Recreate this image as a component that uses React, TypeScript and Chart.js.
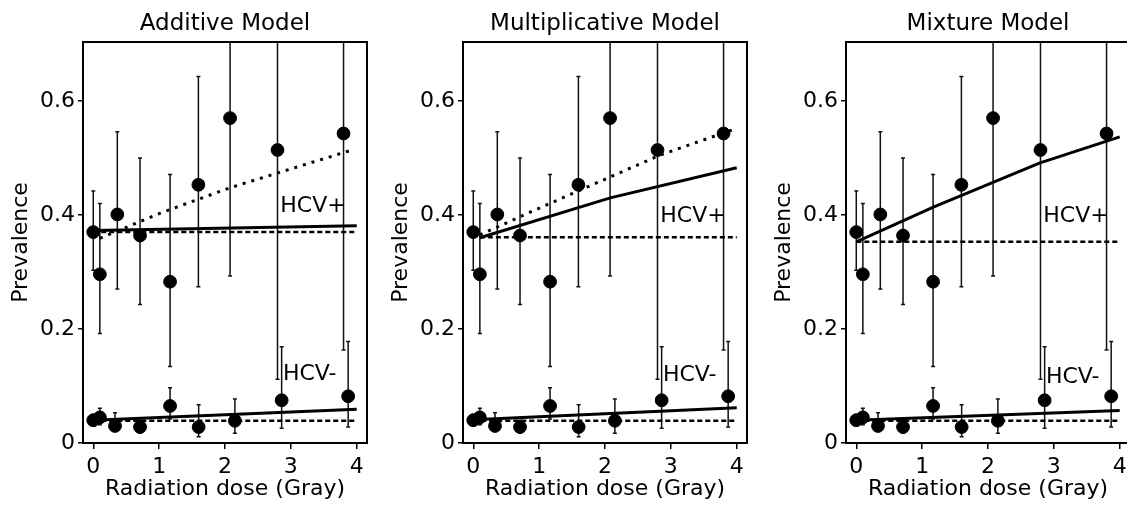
import React, { useEffect, useRef } from 'react';
import { Chart, registerables } from 'chart.js';

Chart.register(...registerables);

const FONT_FAMILY = "'DejaVu Sans', 'Liberation Sans', sans-serif";

// ---- axis / text content ----
const xTicks = [0, 1, 2, 3, 4];
const yTicks = [0, 0.2, 0.4, 0.6];
const yTickLabels = ['0', '0.2', '0.4', '0.6'];
const panelTitles = ['Additive Model', 'Multiplicative Model', 'Mixture Model'];
const xAxisTitle = 'Radiation dose (Gray)';
const yAxisTitle = 'Prevalence';
const groupNames = ['HCV+', 'HCV-'];

// ---- observed prevalence (same in every panel) ----
const posDose = [0, 0.1, 0.365, 0.71, 1.166, 1.596, 2.077, 2.797, 3.8];
const posPrev = [0.37, 0.296, 0.401, 0.364, 0.283, 0.453, 0.57, 0.514, 0.543];
const posLow = [0.303, 0.192, 0.27, 0.243, 0.134, 0.274, 0.293, 0.112, 0.163];
const posHigh = [0.442, 0.42, 0.546, 0.5, 0.471, 0.643, 0.8, 0.85, 0.82];

const negDose = [0, 0.1, 0.33, 0.71, 1.166, 1.6, 2.15, 2.86, 3.87];
const negPrev = [0.04, 0.045, 0.03, 0.028, 0.065, 0.028, 0.039, 0.075, 0.082];
const negLow = [0.03, 0.032, 0.02, 0.018, 0.042, 0.011, 0.017, 0.026, 0.028];
const negHigh = [0.05, 0.061, 0.053, 0.04, 0.097, 0.067, 0.077, 0.169, 0.178];

// ---- Additive model curves ----
const addPosFitX = [0, 4];
const addPosFitY = [0.373, 0.381];
const addPosDotX = [0.1, 1.01, 2.08, 3.9];
const addPosDotY = [0.359, 0.403, 0.448, 0.513];
const addPosFlatX = [0, 4];
const addPosFlatY = [0.37, 0.37];
const addNegFitX = [0, 4];
const addNegFitY = [0.04, 0.059];
const addNegFlatX = [0, 4];
const addNegFlatY = [0.039, 0.039];

// ---- Multiplicative model curves ----
const mulPosFitX = [0.1, 2.08, 4];
const mulPosFitY = [0.36, 0.43, 0.483];
const mulPosDotX = [0.1, 0.71, 1.57, 2.835, 4];
const mulPosDotY = [0.365, 0.397, 0.441, 0.505, 0.552];
const mulPosFlatX = [0.1, 4];
const mulPosFlatY = [0.361, 0.361];
const mulNegFitX = [0, 4];
const mulNegFitY = [0.041, 0.062];
const mulNegFlatX = [0, 4];
const mulNegFlatY = [0.039, 0.039];

// ---- Mixture model curves ----
const mixPosFitX = [0, 1.17, 2.78, 4];
const mixPosFitY = [0.353, 0.414, 0.491, 0.537];
const mixPosFlatX = [0, 4];
const mixPosFlatY = [0.353, 0.353];
const mixNegFitX = [0, 4];
const mixNegFitY = [0.04, 0.057];
const mixNegFlatX = [0, 4];
const mixNegFlatY = [0.039, 0.039];

// group label anchors (data units) per panel: [HCV+ y, HCV- y]
const labelAnchorX = [2.84, 2.88];
const labelAnchorY = [
  [0.4155, 0.121],
  [0.398, 0.119],
  [0.398, 0.115],
];

type Style = 'solid' | 'dotted' | 'dashed';
const curvesByPanel: { xs: number[]; ys: number[]; style: Style }[][] = [
  [
    { xs: addPosFitX, ys: addPosFitY, style: 'solid' },
    { xs: addPosDotX, ys: addPosDotY, style: 'dotted' },
    { xs: addPosFlatX, ys: addPosFlatY, style: 'dashed' },
    { xs: addNegFitX, ys: addNegFitY, style: 'solid' },
    { xs: addNegFlatX, ys: addNegFlatY, style: 'dashed' },
  ],
  [
    { xs: mulPosFitX, ys: mulPosFitY, style: 'solid' },
    { xs: mulPosDotX, ys: mulPosDotY, style: 'dotted' },
    { xs: mulPosFlatX, ys: mulPosFlatY, style: 'dashed' },
    { xs: mulNegFitX, ys: mulNegFitY, style: 'solid' },
    { xs: mulNegFlatX, ys: mulNegFlatY, style: 'dashed' },
  ],
  [
    { xs: mixPosFitX, ys: mixPosFitY, style: 'solid' },
    { xs: mixPosFlatX, ys: mixPosFlatY, style: 'dashed' },
    { xs: mixNegFitX, ys: mixNegFitY, style: 'solid' },
    { xs: mixNegFlatX, ys: mixNegFlatY, style: 'dashed' },
  ],
];

const toPts = (xs: number[], ys: number[]) => xs.map((x, i) => ({ x, y: ys[i] }));

const errorBarPlugin = {
  id: 'errorBars',
  beforeDatasetsDraw(chart: any) {
    const { ctx, chartArea: a, scales } = chart;
    const xs = scales.x;
    const ys = scales.y;
    ctx.save();
    ctx.beginPath();
    ctx.rect(a.left, a.top, a.right - a.left, a.bottom - a.top);
    ctx.clip();
    ctx.strokeStyle = '#111';
    ctx.lineWidth = 1.5;
    chart.data.datasets.forEach((ds: any) => {
      if (!ds.errLow) return;
      ds.data.forEach((p: any, i: number) => {
        const px = xs.getPixelForValue(p.x);
        const lo = ys.getPixelForValue(ds.errLow[i]);
        const hi = ys.getPixelForValue(ds.errHigh[i]);
        ctx.beginPath();
        ctx.moveTo(px, lo);
        ctx.lineTo(px, hi);
        ctx.moveTo(px - 2, lo);
        ctx.lineTo(px + 2, lo);
        ctx.moveTo(px - 2, hi);
        ctx.lineTo(px + 2, hi);
        ctx.stroke();
      });
    });
    ctx.restore();
  },
};

const framePlugin = {
  id: 'frameBox',
  afterDraw(chart: any) {
    const { ctx, chartArea: a } = chart;
    ctx.save();
    ctx.strokeStyle = '#000';
    ctx.lineWidth = 2;
    ctx.strokeRect(a.left, a.top, a.right - a.left, a.bottom - a.top);
    ctx.restore();
  },
};

const groupTextPlugin = {
  id: 'groupText',
  afterDatasetsDraw(chart: any, _args: any, opts: any) {
    const { ctx, scales } = chart;
    ctx.save();
    ctx.fillStyle = '#000';
    ctx.font = `22px ${FONT_FAMILY}`;
    ctx.textAlign = 'left';
    ctx.textBaseline = 'middle';
    (opts.items || []).forEach((it: any) => {
      ctx.fillText(it.text, scales.x.getPixelForValue(it.x), scales.y.getPixelForValue(it.y));
    });
    ctx.restore();
  },
};

function buildConfig(index: number): any {
  const font = { family: FONT_FAMILY, size: 22, weight: 'normal' as const };
  const lineDatasets = curvesByPanel[index].map((c) => ({
    data: toPts(c.xs, c.ys),
    showLine: true,
    pointRadius: 0,
    borderColor: '#000',
    borderWidth: c.style === 'solid' ? 3 : c.style === 'dotted' ? 3 : 2.5,
    borderDash: c.style === 'dotted' ? [3, 6] : c.style === 'dashed' ? [5, 3] : [],
    borderCapStyle: 'butt',
    fill: false,
    order: 1,
  }));
  const pointDatasets = [
    {
      data: toPts(posDose, posPrev),
      errLow: posLow,
      errHigh: posHigh,
      pointRadius: 6.4,
      pointBackgroundColor: '#000',
      pointBorderColor: '#000',
      showLine: false,
      order: 0,
    },
    {
      data: toPts(negDose, negPrev),
      errLow: negLow,
      errHigh: negHigh,
      pointRadius: 6.4,
      pointBackgroundColor: '#000',
      pointBorderColor: '#000',
      showLine: false,
      order: 0,
    },
  ];
  return {
    type: 'scatter',
    data: { datasets: [...pointDatasets, ...lineDatasets] },
    plugins: [errorBarPlugin, framePlugin, groupTextPlugin],
    options: {
      responsive: false,
      animation: false,
      events: [],
      layout: { padding: { left: 0, right: 13, top: 0, bottom: 0 } },
      plugins: {
        legend: { display: false },
        tooltip: { enabled: false },
        title: {
          display: true,
          text: panelTitles[index],
          color: '#000',
          font: { family: FONT_FAMILY, size: 23, weight: 'normal' },
          padding: { top: 10, bottom: 4.4 },
          fullSize: false,
        },
        groupText: {
          items: [
            { text: groupNames[0], x: labelAnchorX[0], y: labelAnchorY[index][0] },
            { text: groupNames[1], x: labelAnchorX[1], y: labelAnchorY[index][1] },
          ],
        },
      },
      scales: {
        x: {
          type: 'linear',
          min: -0.156,
          max: 4.156,
          afterBuildTicks: (s: any) => {
            s.ticks = xTicks.map((v) => ({ value: v }));
          },
          afterFit: (s: any) => {
            s.height = 65;
          },
          ticks: {
            color: '#000',
            font,
            padding: 5,
            autoSkip: false,
            maxRotation: 0,
            callback: (v: any) => String(v),
          },
          grid: {
            display: true,
            drawOnChartArea: false,
            drawTicks: true,
            tickLength: 6,
            color: '#000',
            lineWidth: 1.5,
          },
          border: { display: true, color: '#000', width: 2 },
          title: {
            display: true,
            text: xAxisTitle,
            color: '#000',
            font,
            padding: { top: 0, bottom: 5.4 },
          },
        },
        y: {
          type: 'linear',
          min: 0,
          max: 0.7035,
          afterBuildTicks: (s: any) => {
            s.ticks = yTicks.map((v) => ({ value: v }));
          },
          afterFit: (s: any) => {
            s.width = 83;
          },
          ticks: {
            color: '#000',
            font,
            padding: 3,
            autoSkip: false,
            callback: (_v: any, i: number) => yTickLabels[i],
          },
          grid: {
            display: true,
            drawOnChartArea: false,
            drawTicks: true,
            tickLength: 5,
            color: '#000',
            lineWidth: 1.5,
          },
          border: { display: true, color: '#000', width: 2 },
          title: {
            display: true,
            text: yAxisTitle,
            color: '#000',
            font,
            padding: { top: 8.5, bottom: 0 },
          },
        },
      },
    },
  };
}

function Panel({ index, left }: { index: number; left: number }) {
  const ref = useRef<HTMLCanvasElement>(null);
  useEffect(() => {
    const chart = new Chart(ref.current as HTMLCanvasElement, buildConfig(index));
    return () => chart.destroy();
  }, [index]);
  return (
    <canvas
      ref={ref}
      width={380}
      height={508}
      style={{ position: 'absolute', left, top: 0, width: 380, height: 508 }}
    />
  );
}

export default function App() {
  return (
    <div
      style={{
        position: 'fixed',
        left: 0,
        top: 0,
        width: 1127,
        height: 508,
        overflow: 'hidden',
        background: '#fff',
      }}
    >
      <Panel index={0} left={0} />
      <Panel index={1} left={380} />
      <Panel index={2} left={763} />
    </div>
  );
}
